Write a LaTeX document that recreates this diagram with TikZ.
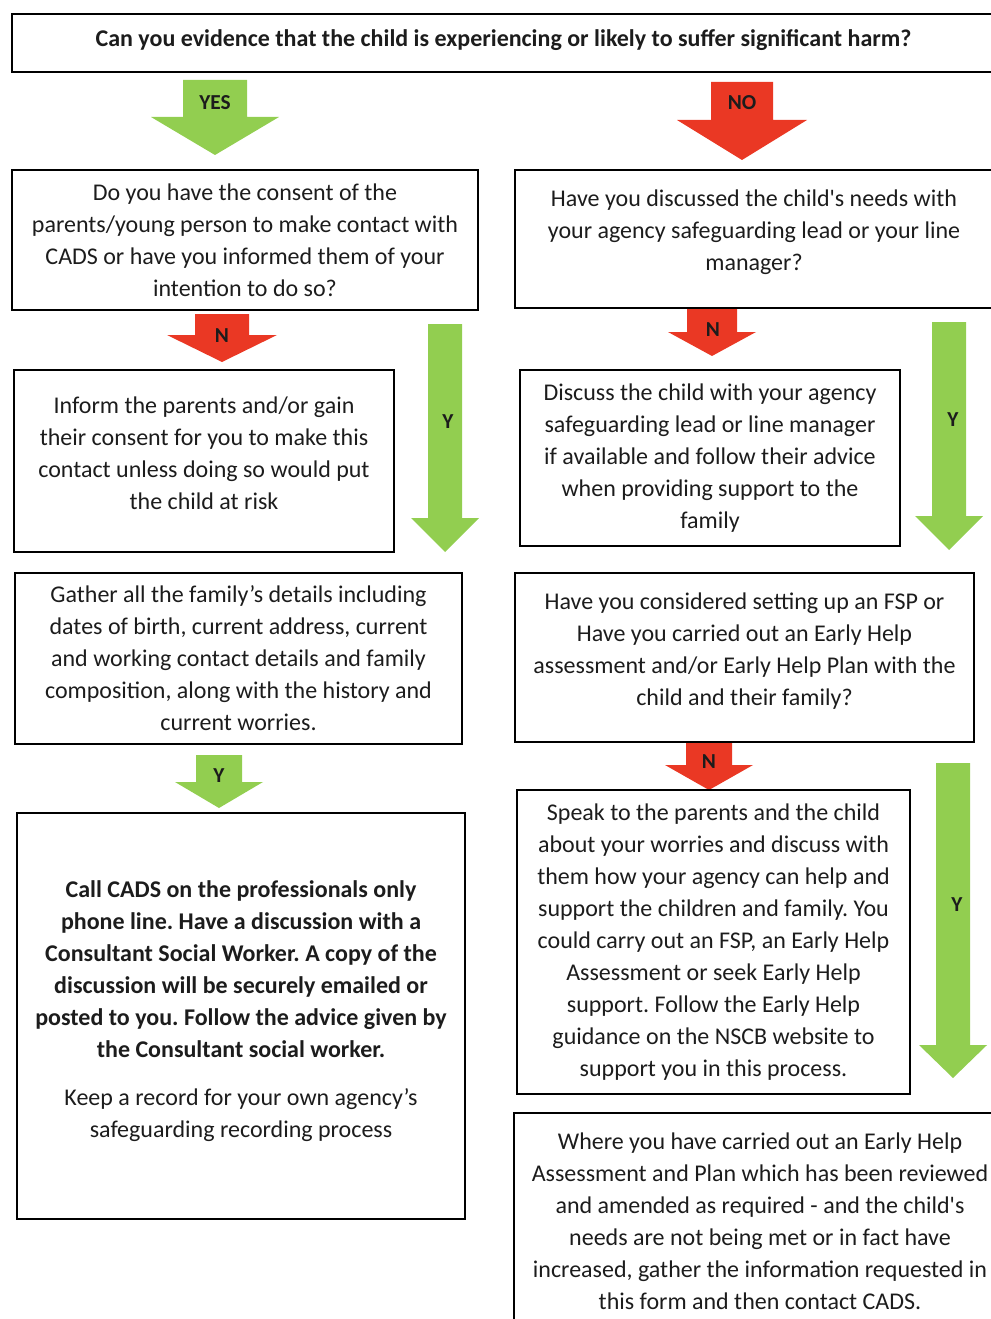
\documentclass[tikz,border=0pt]{standalone}
\usepackage{fontspec}
\setmainfont{Carlito}
\frenchspacing
\usetikzlibrary{positioning}
\definecolor{arrowgreen}{RGB}{146,206,80}
\definecolor{arrowred}{RGB}{234,56,36}
\definecolor{inkgrey}{RGB}{28,28,28}

% block arrow: colour, centre x, top y, shaft half width, head base y, head half width, tip y
\newcommand{\blockarrow}[7]{%
  \fill[#1] ({#2-#4},#3) -- ({#2+#4},#3) -- ({#2+#4},#5) -- ({#2+#6},#5)
    -- (#2,#7) -- ({#2-#6},#5) -- ({#2-#4},#5) -- cycle;}

\begin{document}
\begin{tikzpicture}[
  x=0.75pt,y=-0.75pt,
  box/.style={draw=black,line width=1.5pt,align=center,inner sep=0pt,
              text=inkgrey,font=\fontsize{18}{24}\selectfont},
  size/.style 2 args={minimum width={#1*0.75pt},minimum height={#2*0.75pt}},
  tag/.style={text=inkgrey,font=\bfseries\fontsize{16}{18}\selectfont}
]
\useasboundingbox (0,0) rectangle (990,1319);

% arrows first, boxes on top
\blockarrow{arrowgreen}{215}{80}{32}{117}{64}{155}
\blockarrow{arrowred}{742}{82}{31}{120}{65}{160}
\blockarrow{arrowred}{222}{314}{27}{335}{55}{362}
\blockarrow{arrowgreen}{445}{324}{17}{518}{34}{552}
\blockarrow{arrowred}{712}{308}{25}{332}{44}{356}
\blockarrow{arrowgreen}{949}{322}{17}{516}{34}{550}
\blockarrow{arrowgreen}{219}{755}{23}{782}{44}{808}
\blockarrow{arrowred}{709}{742}{23}{765}{44}{790}
\blockarrow{arrowgreen}{953}{763}{17}{1045}{34}{1078}

\node[tag] (yesTag) at (215,103) {YES};
\node[tag] (noTag) at (742,103) {NO};
\node[tag] (nL1) at (222,336) {N};
\node[tag] (yL1) at (448,422) {Y};
\node[tag] (nR1) at (713,330) {N};
\node[tag] (yR1) at (953,420) {Y};
\node[tag] (yL3) at (219,776) {Y};
\node[tag] (nR3) at (709,762) {N};
\node[tag] (yR3) at (957,905) {Y};

% question at the top
\node[box,size={983}{58},text depth=8pt] (harm) at (503.5,43)
  {\textbf{Can you evidence that the child is experiencing or likely to suffer significant harm?}};

% yes side
\node[box,size={466}{140}] (consent) at (245,240)
  {Do you have the consent of the\\parents/young person to make contact with\\CADS or have you informed them of your\\intention to do so?};
\node[box,size={380}{182},text depth=12pt] (inform) at (204,461)
  {Inform the parents and/or gain\\their consent for you to make this\\contact unless doing so would put\\the child at risk};
\node[box,size={447}{171}] (gather) at (238.5,658.5)
  {Gather all the family's details including\\dates of birth, current address, current\\and working contact details and family\\composition, along with the history and\\current worries.};
\node[box,size={448}{406},text depth=11pt] (callCads) at (241,1016)
  {\textbf{Call CADS on the professionals only}\\\textbf{phone line. Have a discussion with a}\\\textbf{Consultant Social Worker. A copy of the}\\\textbf{discussion will be securely emailed or}\\\textbf{posted to you. Follow the advice given by}\\\textbf{the Consultant social worker.}\\[12pt]Keep a record for your own agency's\\safeguarding recording process};

% no side
\node[box,size={478}{138},text depth=12.7pt] (discussed) at (754,239)
  {Have you discussed the child\textquotesingle s needs with\\your agency safeguarding lead or your line\\manager?};
\node[box,size={380}{176}] (discuss) at (710,458)
  {Discuss the child with your agency\\safeguarding lead or line manager\\if available and follow their advice\\when providing support to the\\family};
\node[box,size={459}{169},text depth=12.7pt] (fsp) at (744.5,657.5)
  {Have you considered setting up an FSP or\\Have you carried out an Early Help\\assessment and/or Early Help Plan with the\\child and their family?};
\node[box,size={393}{304}] (speak) at (713.5,942)
  {Speak to the parents and the child\\about your worries and discuss with\\them how your agency can help and\\support the children and family. You\\could carry out an FSP, an Early Help\\Assessment or seek Early Help\\support. Follow the Early Help\\guidance on the NSCB website to\\support you in this process.};
\node[box,size={492}{217}] (review) at (760,1221.5)
  {Where you have carried out an Early Help\\Assessment and Plan which has been reviewed\\and amended as required - and the child\textquotesingle s\\needs are not being met or in fact have\\increased, gather the information requested in\\this form and then contact CADS.};
\end{tikzpicture}
\end{document}
